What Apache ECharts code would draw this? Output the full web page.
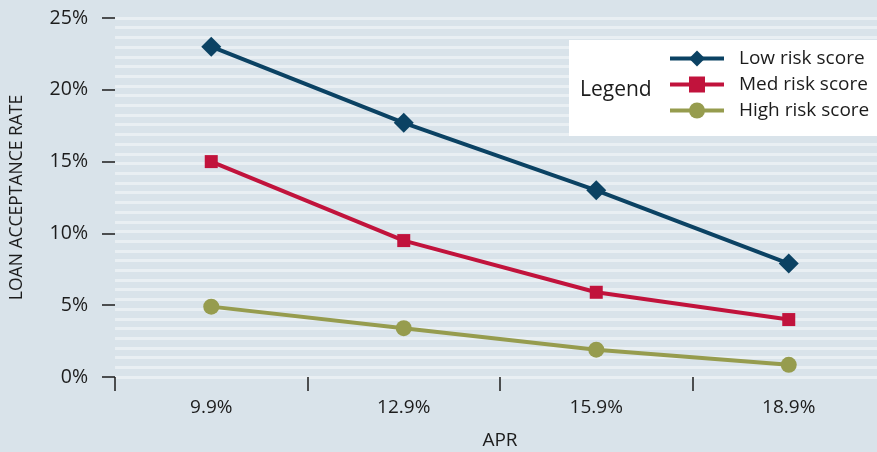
<!DOCTYPE html>
<html>
<head>
<meta charset="utf-8">
<script src="https://cdn.jsdelivr.net/npm/echarts@6/dist/echarts.min.js"></script>
<style>
  html, body { margin: 0; padding: 0; background: #d9e3ea; }
  #chart { width: 877px; height: 452px; }
</style>
</head>
<body>
<div id="chart"></div>
<script>
// APR categories along the x axis
const aprLabels = ['9.9%', '12.9%', '15.9%', '18.9%'];

// Loan acceptance rate (%) per risk band
const lowRisk = [23.0, 17.7, 13.0, 7.9];
const medRisk = [15.0, 9.5, 5.9, 4.0];
const highRisk = [4.9, 3.4, 1.9, 0.85];

const seriesNames = ['Low risk score', 'Med risk score', 'High risk score'];

const FONT = '"Open Sans", "Noto Sans", sans-serif';
const TEXT = '#1c1c1c';

const chart = echarts.init(document.getElementById('chart'));

chart.setOption({
  backgroundColor: '#d9e3ea',
  animation: false,
  grid: { left: 115, top: 18, width: 770, height: 359, containLabel: false, outerBoundsMode: 'none' },
  xAxis: {
    type: 'category',
    data: aprLabels,
    boundaryGap: true,
    name: 'APR',
    nameLocation: 'middle',
    nameGap: 54,
    nameTextStyle: { fontFamily: FONT, fontSize: 19, color: TEXT },
    axisLine: { show: false },
    axisTick: { show: true, length: 14, lineStyle: { color: TEXT, width: 1.5 } },
    axisLabel: { margin: 21, fontFamily: FONT, fontSize: 19, color: TEXT }
  },
  yAxis: [
    {
      type: 'value',
      min: 0,
      max: 25,
      interval: 5,
      name: 'LOAN ACCEPTANCE RATE',
      nameLocation: 'middle',
      nameGap: 89,
      nameRotate: 90,
      nameTextStyle: { fontFamily: FONT, fontSize: 17.5, color: TEXT },
      axisLine: { show: false },
      axisTick: { show: true, length: 13, lineStyle: { color: TEXT, width: 1.5 } },
      axisLabel: { margin: 27, formatter: '{value}%', fontFamily: FONT, fontSize: 19.5, color: TEXT },
      splitLine: { show: false }
    },
    {
      // fine stripe pattern behind the plot: 37 bands across the value range
      type: 'value',
      min: 0,
      max: 37,
      interval: 1,
      show: true,
      axisLine: { show: false },
      axisTick: { show: false },
      axisLabel: { show: false },
      splitLine: { show: true, lineStyle: { color: '#e9eff3', width: 3 } }
    }
  ],
  legend: {
    orient: 'vertical',
    left: 668,
    top: 49,
    z: 10,
    padding: 0,
    itemWidth: 54,
    itemHeight: 20,
    itemGap: 7,
    data: seriesNames,
    lineStyle: { width: 4 },
    textStyle: { fontFamily: FONT, fontSize: 19, color: TEXT, padding: [0, 0, 0, 10] }
  },
  graphic: [
    {
      type: 'rect',
      shape: { x: 569, y: 40, width: 320, height: 96 },
      style: { fill: '#ffffff' },
      z: 5
    },
    {
      type: 'text',
      left: 580,
      top: 80,
      style: { text: 'Legend', font: '21px ' + FONT, fill: TEXT },
      z: 6
    }
  ],
  series: [
    {
      name: seriesNames[0],
      type: 'line',
      data: lowRisk,
      symbol: 'diamond',
      symbolSize: 20,
      color: '#0b4263',
      lineStyle: { width: 4 },
      z: 4
    },
    {
      name: seriesNames[1],
      type: 'line',
      data: medRisk,
      symbol: 'rect',
      symbolSize: 13,
      color: '#c1133c',
      lineStyle: { width: 4 },
      z: 3
    },
    {
      name: seriesNames[2],
      type: 'line',
      data: highRisk,
      symbol: 'circle',
      symbolSize: 16,
      color: '#969c4e',
      lineStyle: { width: 4 },
      z: 2
    }
  ]
});
</script>
</body>
</html>
